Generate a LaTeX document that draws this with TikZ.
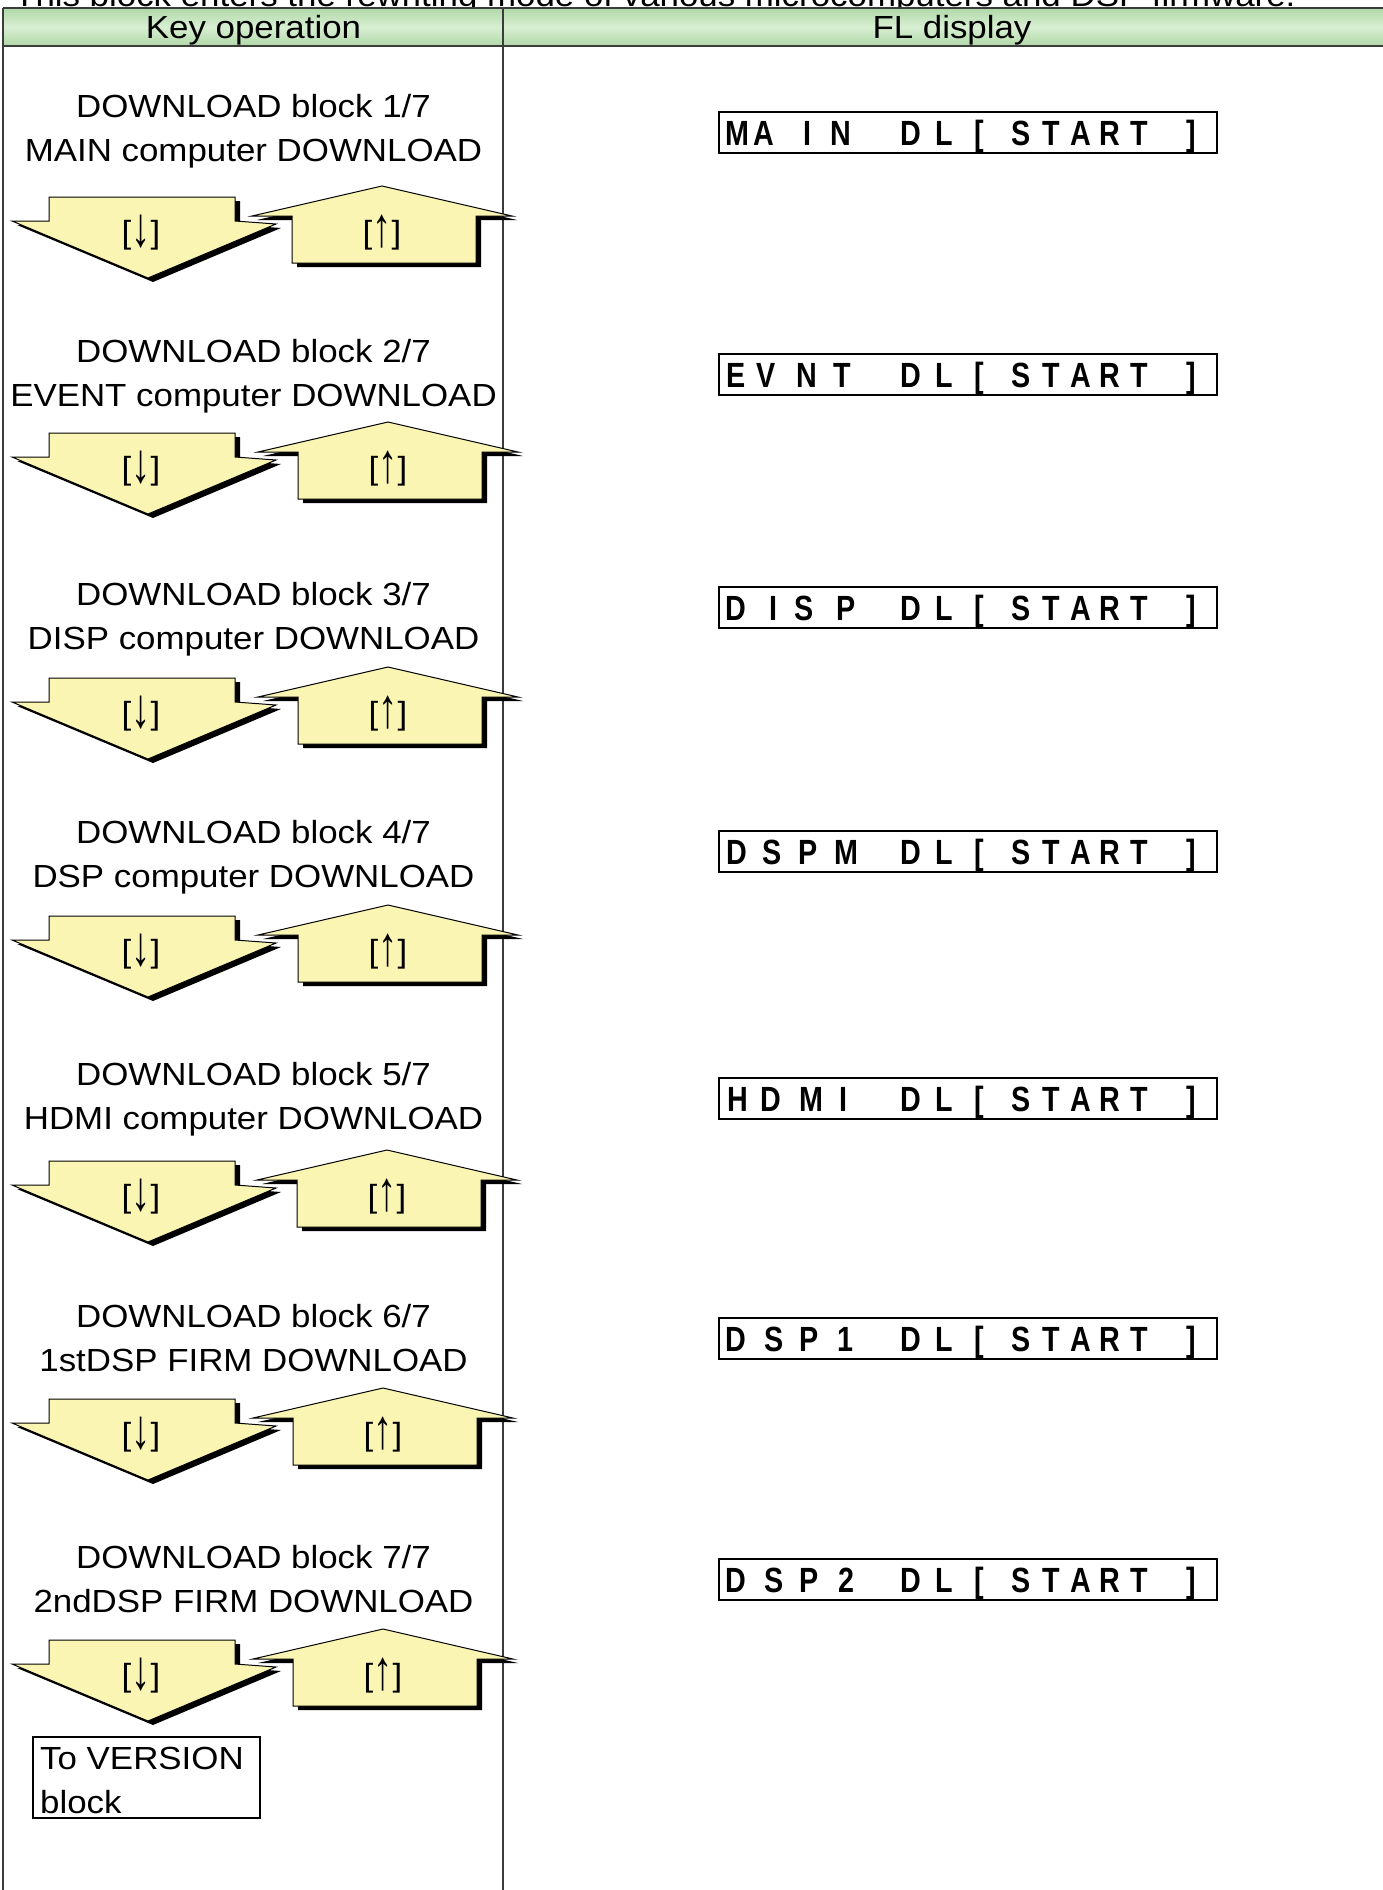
\documentclass[tikz,border=0pt]{standalone}
\usepackage{fontspec}
\setmainfont[FakeStretch=1.09]{Liberation Sans}
\newfontfamily\dispfont[FakeStretch=0.82]{Liberation Sans Bold}
\definecolor{hdrtop}{RGB}{176,216,168}
\definecolor{hdrmid}{RGB}{216,239,210}
\definecolor{keyyellow}{RGB}{250,245,178}
\definecolor{rulegray}{RGB}{60,60,60}
\tikzset{
  keytext/.style={font=\fontsize{32}{38}\selectfont, inner sep=0pt},
  rulelines/.style={draw=rulegray, line width=1.5pt},
  arrowshape/.style={fill=keyyellow, draw=black, line width=1pt, line join=miter},
  arrowshadow/.style={fill=black},
  dispbox/.style={draw=black, line width=2pt, minimum width=498pt, minimum height=41pt, inner sep=0pt},
  dchar/.style={font=\dispfont\fontsize{35}{40}\selectfont, inner sep=0pt, anchor=base},
  verbox/.style={draw=black, line width=1.5pt, minimum width=227pt, minimum height=81pt, inner sep=0pt},
}
\newcommand\tallarrow[1]{\raisebox{-3pt}{\scalebox{1.1}[1.75]{#1}}}
% #1 id, #2 baseline of line 1, #3 line 1, #4 line 2, #5 top of down arrow body, #6 shift of up arrow
\newcommand\keyrow[6]{%
  \node[keytext, anchor=base] (ka#1) at (253.5,#2) {#3};
  \node[keytext, anchor=base] (kb#1) at (253.5,#2+44) {#4};
  \begin{scope}[shift={(0,#5)}]
    \fill[arrowshadow, shift={(5,4)}] (49,0) -- (235,0) -- (235,24) -- (276,27) -- (148,81) -- (12,24) -- (49,24) -- cycle;
    \filldraw[arrowshape] (49,0) -- (235,0) -- (235,24) -- (276,27) -- (148,81) -- (12,24) -- (49,24) -- cycle;
    \node[keytext, anchor=base] (dn#1) at (141,46) {[\tallarrow{↓}]};
    \begin{scope}[shift={(#6,0)}]
      \fill[arrowshadow, shift={(5,4)}] (382,-11) -- (512,19) -- (476,19) -- (476,66) -- (292,66) -- (292,19) -- (252,19) -- cycle;
      \filldraw[arrowshape] (382,-11) -- (512,19) -- (476,19) -- (476,66) -- (292,66) -- (292,19) -- (252,19) -- cycle;
      \node[keytext, anchor=base] (up#1) at (382,46) {[\tallarrow{↑}]};
    \end{scope}
  \end{scope}
}
% #1 id, #2 box top, #3 first word chars as pos/char list
\newcommand\flrow[3]{%
  \node[dispbox, anchor=north west] (fl#1) at (718,#2) {};
  \foreach \p/\c in {#3} {\node[dchar] (fa#1-\p) at (718+\p,#2+34) {\c};}
  \foreach \p/\c in {193/D,226/L,261/[,303/S,333/T,363/A,392/R,421/T,473/]} {\node[dchar] (fb#1-\p) at (718+\p,#2+34) {\c};}
}
\begin{document}
\begin{tikzpicture}[x=1pt,y=-1pt]
\useasboundingbox (0,0) rectangle (1383,1890);
\clip (0,0) rectangle (1383,1890);
\fill[white] (0,0) rectangle (1383,1890);
% title (cut at the top)
\node[keytext, anchor=base west] (title) at (14,6) {This block enters the rewriting mode of various microcomputers and DSP firmware.};
% header
\shade[top color=hdrtop, bottom color=hdrtop, middle color=hdrmid] (3,8) rectangle (1390,46);
\draw[rulelines] (3,8) -- (1390,8);
\draw[rulelines] (3,46) -- (1390,46);
\draw[rulelines] (3,8) -- (3,1895);
\draw[rulelines] (503,8) -- (503,1895);
\node[keytext] (hkey) at (253.5,30) {Key operation};
\node[keytext] (hfl) at (952,30) {FL display};
% rows
\keyrow{1}{117}{DOWNLOAD block 1/7}{MAIN computer DOWNLOAD}{197}{0}
\keyrow{2}{362}{DOWNLOAD block 2/7}{EVENT computer DOWNLOAD}{433}{6}
\keyrow{3}{605}{DOWNLOAD block 3/7}{DISP computer DOWNLOAD}{678}{6}
\keyrow{4}{843}{DOWNLOAD block 4/7}{DSP computer DOWNLOAD}{916}{6}
\keyrow{5}{1085}{DOWNLOAD block 5/7}{HDMI computer DOWNLOAD}{1161}{5}
\keyrow{6}{1327}{DOWNLOAD block 6/7}{1stDSP FIRM DOWNLOAD}{1399}{1}
\keyrow{7}{1568}{DOWNLOAD block 7/7}{2ndDSP FIRM DOWNLOAD}{1640}{1}
% FL display
\flrow{1}{111}{19/M,46/A,89/I,123/N}
\flrow{2}{353}{18/E,48/V,89/N,124/T}
\flrow{3}{586}{18/D,55/I,86/S,128/P}
\flrow{4}{830}{19/D,54/S,90/P,128/M}
\flrow{5}{1077}{20/H,53/D,93/M,125/I}
\flrow{6}{1317}{18/D,56/S,91/P,127/1}
\flrow{7}{1558}{18/D,56/S,91/P,128/2}
% to VERSION block
\node[verbox, anchor=north west] (ver) at (32,1736) {};
\node[keytext, anchor=base west] (ver1) at (40,1769) {To VERSION};
\node[keytext, anchor=base west] (ver2) at (40,1813) {block};
\end{tikzpicture}
\end{document}
